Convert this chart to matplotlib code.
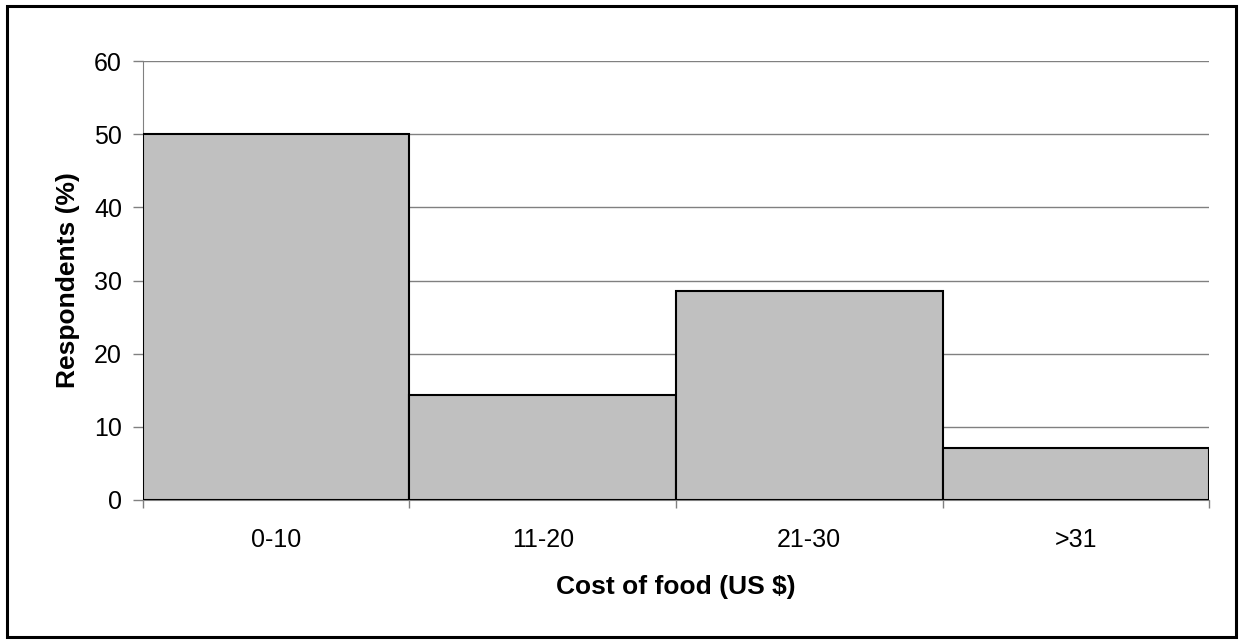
import matplotlib.pyplot as plt
from matplotlib.patches import Rectangle

# data
categories = ['0-10', '11-20', '21-30', '>31']
respondents = [50.0, 14.3, 28.6, 7.1]
yticks = [0, 10, 20, 30, 40, 50, 60]

plt.rcParams['font.family'] = ['Liberation Sans', 'DejaVu Sans']

fig = plt.figure(figsize=(12.43, 6.43), dpi=100)
ax = fig.add_axes([0.1150, 0.2224, 0.8577, 0.6827])

# outer frame round the whole chart
fig.patches.append(Rectangle((0.0056, 0.0093), 0.9885, 0.9813, transform=fig.transFigure,
                             fill=False, edgecolor='black', linewidth=2.2))

x = range(len(categories))
ax.bar(x, respondents, width=1.0, color='#C0C0C0', edgecolor='black', linewidth=1.5, zorder=3)

ax.set_xlim(-0.5, len(categories) - 0.5)
ax.set_ylim(0, 60)
ax.set_yticks(yticks)
ax.yaxis.grid(True, color='#808080', linewidth=1.0, zorder=0)

# ticks sit on the category boundaries, labels in the middle
ax.set_xticks([i - 0.5 for i in range(len(categories) + 1)])
ax.set_xticklabels([])
ax.set_xticks(list(x), minor=True)
ax.set_xticklabels(categories, minor=True)
ax.tick_params(axis='x', which='major', length=6, color='#808080', width=1)
ax.tick_params(axis='x', which='minor', length=0, pad=20, labelsize=18)
ax.tick_params(axis='y', length=7, color='#808080', width=1, labelsize=18, pad=8)

for s in ['top', 'right']:
    ax.spines[s].set_visible(False)
ax.spines['left'].set_color('#808080')
ax.spines['bottom'].set_color('#808080')

ax.set_ylabel('Respondents (%)', fontsize=19, fontweight='bold', labelpad=10)
ax.set_xlabel('Cost of food (US $)', fontsize=19, fontweight='bold', labelpad=17)

fig.savefig('out.png', dpi=100)
